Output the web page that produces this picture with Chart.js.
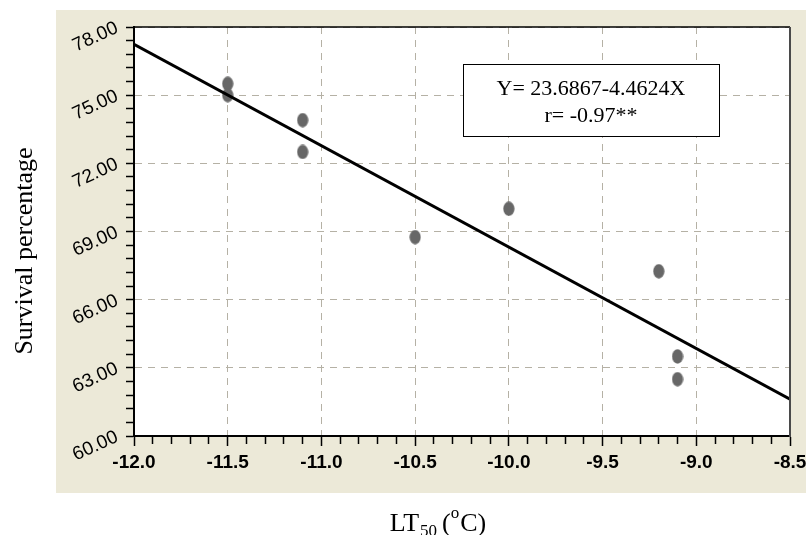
<!DOCTYPE html>
<html><head><meta charset="utf-8">
<script src="https://cdn.jsdelivr.net/npm/chart.js@4.4.1/dist/chart.umd.min.js"></script>
<style>html,body{margin:0;padding:0;background:#fff;} canvas{display:block;}</style>
</head><body>
<canvas id="c" width="806" height="535"></canvas>
<script>
// ---- data ----
const lt50 = [-11.5, -11.5, -11.1, -11.1, -10.5, -10.0, -9.2, -9.1, -9.1];
const survival = [75.5, 75.0, 73.9, 72.5, 68.75, 70.0, 67.25, 63.5, 62.5];
const fitX = [-12.0, -8.5];
const fitY = [77.24, 61.62];
const xMajorTicks = [-12.0, -11.5, -11.0, -10.5, -10.0, -9.5, -9.0, -8.5];
const yMajorTicks = [60, 63, 66, 69, 72, 75, 78];
const minorDivisions = 5;
const equationLines = ['Y= 23.6867-4.4624X', 'r= -0.97**'];
const yTitleText = 'Survival percentage';
const xTitleParts = ['LT', '50', '(', 'o', 'C)'];

// ---- helpers ----
function subdivide(majors, n) {
  const out = [];
  for (let i = 0; i < majors.length - 1; i++) {
    const a = majors[i], b = majors[i + 1];
    for (let k = 0; k < n; k++) out.push(+(a + (b - a) * k / n).toFixed(4));
  }
  out.push(majors[majors.length - 1]);
  return out;
}
const xTickValues = subdivide(xMajorTicks, minorDivisions);
const yTickValues = subdivide(yMajorTicks, minorDivisions);
const isMajor = (arr, v) => arr.some(m => Math.abs(m - v) < 1e-6);

const BEIGE = '#ECE9D8';
const GRID = '#b5b1a5';
const SANS = '"Liberation Sans", Arial, sans-serif';
const SERIF = '"Liberation Serif", "Times New Roman", serif';

// ellipse marker
const marker = document.createElement('canvas');
marker.width = 12; marker.height = 15;
(function(){
  const m = marker.getContext('2d');
  m.fillStyle = '#676767';
  m.beginPath(); m.ellipse(6, 7.5, 5.6, 7.2, 0, 0, Math.PI * 2); m.fill();
})();

const decor = {
  id: 'decor',
  beforeDraw(chart) {
    const {ctx, chartArea: a} = chart;
    ctx.save();
    ctx.fillStyle = '#fff'; ctx.fillRect(0, 0, chart.width, chart.height);
    ctx.fillStyle = BEIGE; ctx.fillRect(56, 10, chart.width - 56, 483);
    ctx.fillStyle = '#fff'; ctx.fillRect(a.left, a.top, a.right - a.left, a.bottom - a.top);
    ctx.restore();
  },
  afterDraw(chart) {
    const {ctx, chartArea: a} = chart;
    ctx.save();
    // top & right frame
    ctx.strokeStyle = '#000'; ctx.lineWidth = 1.5;
    ctx.beginPath(); ctx.moveTo(a.left, a.top); ctx.lineTo(a.right, a.top); ctx.stroke();
    ctx.strokeStyle = '#4a4a4a'; ctx.lineWidth = 2;
    ctx.beginPath(); ctx.moveTo(a.right, a.top); ctx.lineTo(a.right, a.bottom + 1); ctx.stroke();
    // equation box
    const bx = 463, by = 64, bw = 256, bh = 72;
    ctx.fillStyle = '#fff'; ctx.fillRect(bx, by, bw, bh);
    ctx.strokeStyle = '#000'; ctx.lineWidth = 1;
    ctx.strokeRect(bx + 0.5, by + 0.5, bw, bh);
    ctx.fillStyle = '#000';
    ctx.font = '22px ' + SERIF;
    ctx.textAlign = 'center'; ctx.textBaseline = 'middle';
    ctx.fillText(equationLines[0], bx + bw / 2, by + 25);
    ctx.fillText(equationLines[1], bx + bw / 2, by + 52);
    // y title
    ctx.save();
    ctx.translate(32, 251); ctx.rotate(-Math.PI / 2);
    ctx.font = '26px ' + SERIF; ctx.textAlign = 'center'; ctx.textBaseline = 'alphabetic';
    ctx.fillText(yTitleText, 0, 0);
    ctx.restore();
    // x title with subscript / superscript
    const big = '26px ' + SERIF, small = '17px ' + SERIF;
    const specs = [
      {t: xTitleParts[0], f: big, dy: 0, gap: 0},
      {t: xTitleParts[1], f: small, dy: 5, gap: 1},
      {t: xTitleParts[2], f: big, dy: 0, gap: 5},
      {t: xTitleParts[3], f: small, dy: -13, gap: 0},
      {t: xTitleParts[4], f: big, dy: 0, gap: 1}
    ];
    let total = 0;
    specs.forEach(s => { ctx.font = s.f; s.w = ctx.measureText(s.t).width; total += s.w + s.gap; });
    let x = 438 - total / 2;
    const base = 531;
    ctx.textAlign = 'left'; ctx.textBaseline = 'alphabetic';
    specs.forEach(s => { x += s.gap; ctx.font = s.f; ctx.fillText(s.t, x, base + s.dy); x += s.w; });
    ctx.restore();
  }
};

new Chart(document.getElementById('c'), {
  type: 'scatter',
  data: {
    datasets: [
      {
        type: 'line',
        data: fitX.map((x, i) => ({x, y: fitY[i]})),
        borderColor: '#000', borderWidth: 3, pointRadius: 0, fill: false, tension: 0
      },
      {
        data: lt50.map((x, i) => ({x, y: survival[i]})),
        pointStyle: marker, pointRadius: 7, pointHoverRadius: 7,
        backgroundColor: '#676767', borderColor: '#676767'
      }
    ]
  },
  options: {
    responsive: false, animation: false,
    layout: {padding: {left: 0, top: 27, right: 16, bottom: 42}},
    plugins: {legend: {display: false}, tooltip: {enabled: false}},
    scales: {
      x: {
        type: 'linear', position: 'bottom', min: -12, max: -8.5,
        afterBuildTicks: s => { s.ticks = xTickValues.map(v => ({value: v})); },
        afterFit: s => { s.height = 57; s.paddingLeft = 0; s.paddingRight = 0; },
        ticks: {
          autoSkip: false, maxRotation: 0, minRotation: 0, padding: 5, color: '#000',
          font: {family: SANS, size: 19, weight: 'bold'},
          callback: v => isMajor(xMajorTicks, v) ? v.toFixed(1) : ''
        },
        grid: {
          color: c => (c.tick && isMajor(xMajorTicks, c.tick.value)) ? GRID : 'rgba(0,0,0,0)',
          lineWidth: 1, tickLength: 10, tickColor: '#000', tickWidth: 1.5,
          tickBorderDash: c => (c.tick && isMajor(xMajorTicks, c.tick.value)) ? [] : [7, 40]
        },
        border: {display: true, color: '#000', width: 2, dash: [7, 6]}
      },
      y: {
        type: 'linear', position: 'left', min: 60, max: 78,
        afterBuildTicks: s => { s.ticks = yTickValues.map(v => ({value: v})); },
        afterFit: s => { s.width = 134; s.paddingTop = 0; s.paddingBottom = 0; },
        ticks: {
          autoSkip: false, minRotation: 25, maxRotation: 25, padding: 9, color: '#000',
          font: {family: SANS, size: 19},
          callback: v => isMajor(yMajorTicks, v) ? v.toFixed(2) : ''
        },
        grid: {
          color: c => (c.tick && isMajor(yMajorTicks, c.tick.value)) ? GRID : 'rgba(0,0,0,0)',
          lineWidth: 1, tickLength: 8, tickColor: '#000', tickWidth: 1.5
        },
        border: {display: true, color: '#000', width: 2, dash: [7, 6]}
      }
    }
  },
  plugins: [decor]
});
</script>
</body></html>
